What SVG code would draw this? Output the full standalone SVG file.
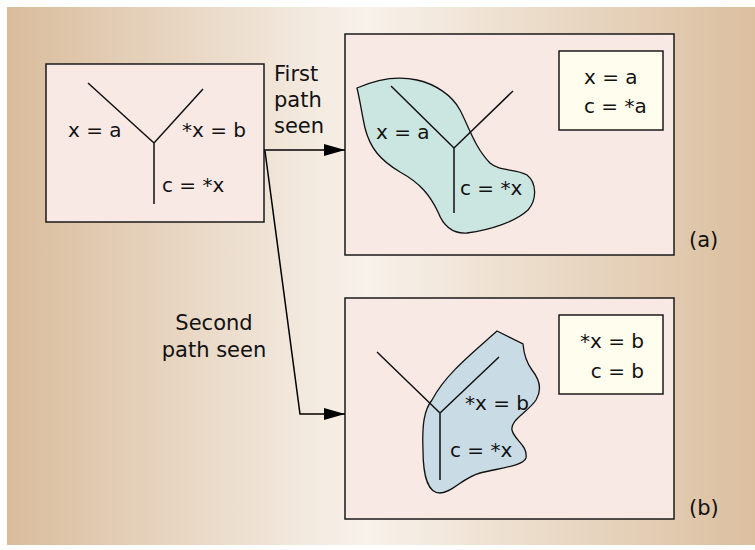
<svg xmlns="http://www.w3.org/2000/svg" width="755" height="550" viewBox="0 0 755 550">
<defs>
<linearGradient id="bg" x1="0" y1="0" x2="1" y2="0">
<stop offset="0" stop-color="#d9bc9c"/>
<stop offset="0.48" stop-color="#f8f2eb"/>
<stop offset="1" stop-color="#dbbf9f"/>
</linearGradient>
<marker id="ah" markerWidth="21" markerHeight="12" refX="21" refY="6" orient="auto" markerUnits="userSpaceOnUse">
<path d="M0,0 L21,6 L0,12 Z" fill="#000"/>
</marker>
</defs>
<style>
.box{fill:#f8e9e5;stroke:#1a1a1a;stroke-width:1.5}
.note{fill:#fffdee;stroke:#1a1a1a;stroke-width:1.5}
.tree{fill:none;stroke:#111;stroke-width:1.5}
.blob{stroke:#111;stroke-width:1.3}
.t{font-family:"DejaVu Sans",sans-serif;font-size:20px;fill:#111}
.lab{font-family:"DejaVu Sans",sans-serif;font-size:21px;fill:#111}
.conn{fill:none;stroke:#000;stroke-width:1.5}
</style>
<rect x="0" y="0" width="755" height="550" fill="#fff"/>
<rect x="7" y="7" width="748" height="538" fill="url(#bg)"/>

<g id="source">
<rect class="box" x="46" y="64" width="218" height="158"/>
<path class="tree" d="M88,83 L154,143 L203,89 M154,143 L154,204"/>
<text class="t" x="68" y="137">x = a</text>
<text class="t" x="182" y="137">*x = b</text>
<text class="t" x="162" y="192">c = *x</text>
</g>

<g id="panel-a">
<rect class="box" x="345" y="34" width="329" height="221"/>
<path class="blob" fill="#cbe5e1" d="M357,88 C375,80 395,75 417,80 C435,84 452,95 460,110 C468,125 475,148 490,163 C500,172 515,168 527,175 C537,183 537,200 528,210 C515,222 490,230 467,233 C452,234 443,225 438,212 C430,195 420,183 400,172 C380,160 370,148 365,128 C362,115 360,100 357,88 Z"/>
<path class="tree" d="M391,86 L454,148 L513,91 M454,148 L454,213"/>
<text class="t" x="376" y="139">x = a</text>
<text class="t" x="460" y="195">c = *x</text>
<rect class="note" x="559" y="51" width="104" height="79"/>
<text class="t" x="584" y="84">x = a</text>
<text class="t" x="584" y="113">c = *a</text>
<text class="lab" x="689" y="247">(a)</text>
</g>

<g id="panel-b">
<rect class="box" x="345" y="298" width="329" height="221"/>
<path class="blob" fill="#c9dce6" d="M497,331 L523,344 C524,355 526,362 532,370 C540,380 542,390 536,400 C528,412 510,420 512,430 C514,440 528,445 526,458 C523,466 500,468 480,473 C462,478 452,493 440,493 C428,493 423,475 423,450 C422,425 424,410 432,400 C445,375 470,355 497,331 Z"/>
<path class="tree" d="M377,352 L440,413 L499,357 M440,413 L440,480"/>
<text class="t" x="465" y="410">*x = b</text>
<text class="t" x="450" y="457">c = *x</text>
<rect class="note" x="559" y="315" width="104" height="79"/>
<text class="t" x="644" y="348" text-anchor="end">*x = b</text>
<text class="t" x="644" y="378" text-anchor="end">c = b</text>
<text class="lab" x="689" y="515">(b)</text>
</g>

<g id="connectors">
<path class="conn" d="M264,150 L345,150" marker-end="url(#ah)"/>
<path class="conn" d="M265,151 L300,414 L345,414" marker-end="url(#ah)"/>
<text class="lab" x="274" y="81">First</text>
<text class="lab" x="274" y="107">path</text>
<text class="lab" x="274" y="133">seen</text>
<text class="lab" x="214" y="330" text-anchor="middle">Second</text>
<text class="lab" x="214" y="357" text-anchor="middle">path seen</text>
</g>
</svg>
